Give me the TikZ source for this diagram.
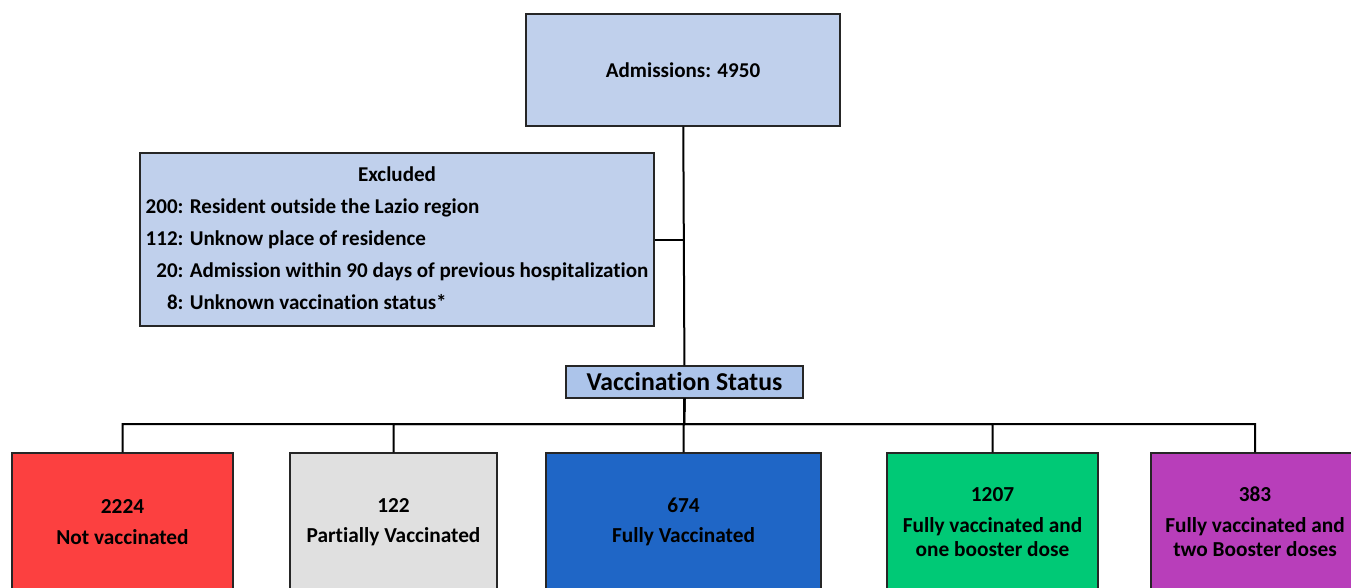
\documentclass[tikz,border=0pt]{standalone}
\usepackage{fontspec}
\setmainfont{Carlito}[Ligatures=NoCommon]
\usepackage{xcolor}

\definecolor{boxblue}{RGB}{192,208,236}
\definecolor{statusblue}{RGB}{172,196,234}
\definecolor{notred}{RGB}{252,64,64}
\definecolor{partgray}{RGB}{224,224,224}
\definecolor{fullblue}{RGB}{31,102,198}
\definecolor{boostgreen}{RGB}{0,201,118}
\definecolor{twopurple}{RGB}{184,62,186}

\tikzset{
  flowbox/.style={draw=black!85, line width=1pt, font=\bfseries},
  groupbox/.style={flowbox, minimum height=103.5pt, align=center,
    font=\bfseries\fontsize{16}{18}\selectfont},
  link/.style={line width=1.5pt}
}

\begin{document}
\begin{tikzpicture}[x=0.75pt, y=-0.75pt]
\useasboundingbox (0,0) rectangle (1351,587);
\clip (0,0) rectangle (1351,587);
% Top of the flow
\node[flowbox, fill=boxblue, minimum width=235.5pt, minimum height=84pt,
  font=\bfseries\fontsize{15.8}{18}\selectfont] (adm) at (683,70) {Admissions: 4950};
\node[flowbox, fill=boxblue, minimum width=385.5pt, minimum height=129.75pt, inner sep=1pt,
  font=\bfseries\fontsize{15.8}{24}\selectfont] (excl) at (397,239.5)
  {\begin{tabular}{@{}r@{: }l@{}}
   \multicolumn{2}{c}{Excluded}\\
   200 & Resident outside the Lazio region\\
   112 & Unknow place of residence\\
   20 & Admission within 90 days of previous hospitalization\\
   8 & Unknown vaccination status*
   \end{tabular}};
\node[flowbox, fill=statusblue, minimum width=177.75pt, minimum height=24pt, inner sep=0pt,
  font=\bfseries\fontsize{19.3}{21}\selectfont] (status) at (684.5,382) {Vaccination Status};
% Vaccination groups
\node[groupbox, fill=notred, minimum width=165.75pt] (notvax) at (122.5,522) {2224\\[5pt]Not vaccinated};
\node[groupbox, fill=partgray, minimum width=155.25pt] (partvax) at (393.5,522) {122\\[5pt]Partially Vaccinated};
\node[groupbox, fill=fullblue, minimum width=206.25pt] (fullvax) at (683.5,522) {674\\[5pt]Fully Vaccinated};
\node[groupbox, fill=boostgreen, minimum width=158.25pt] (onebst) at (992.5,522) {1207\\[5pt]Fully vaccinated and\\one booster dose};
\node[groupbox, fill=twopurple, minimum width=156pt] (twobst) at (1255,522) {383\\[5pt]Fully vaccinated and\\two Booster doses};
% Connectors
\draw[link] (adm) -- (status);
\draw[link] (excl.east) -- (excl.east -| adm.south);
\coordinate (bus) at (684,424);
\foreach \g in {notvax,partvax,fullvax,onebst,twobst}
  \draw[link] (status.south) -- (bus) -| (\g.north);
\end{tikzpicture}
\end{document}
